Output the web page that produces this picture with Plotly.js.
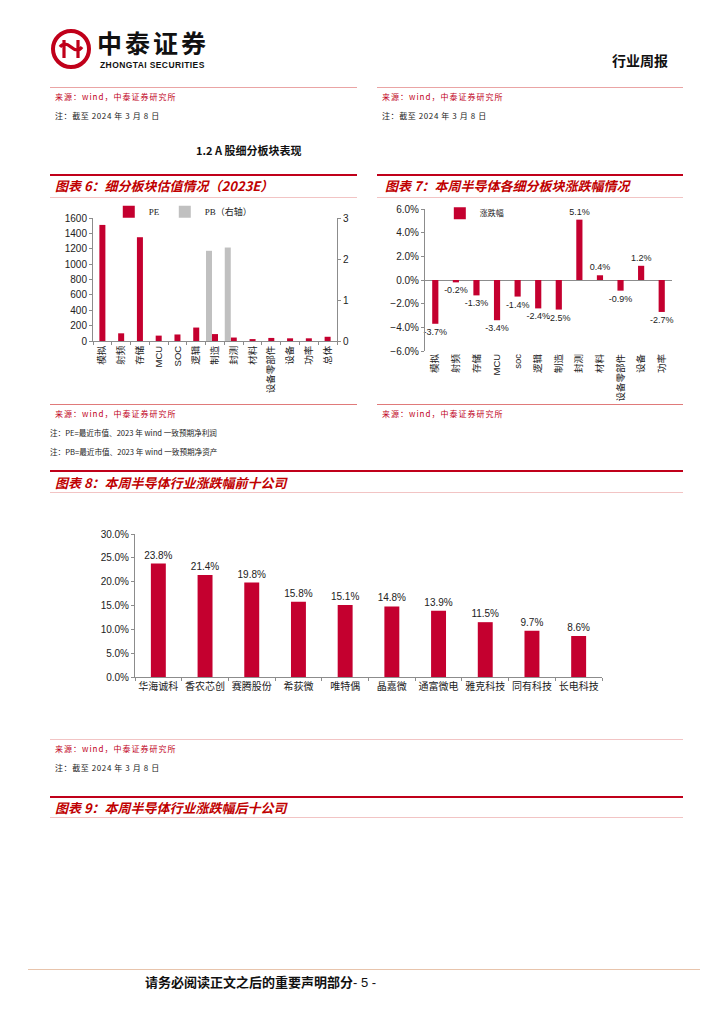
<!DOCTYPE html>
<html><head><meta charset="utf-8">
<script src="https://cdn.plot.ly/plotly-3.0.1.min.js"></script>
<style>
body{margin:0;background:#fff;}
#page{position:relative;width:724px;height:1024px;overflow:hidden;font-family:"Liberation Sans","Noto Sans CJK SC",sans-serif;}
.t{position:absolute;white-space:nowrap;line-height:1;}
.src{font-size:8px;color:#c0001a;font-family:"Noto Sans CJK SC",sans-serif;letter-spacing:1px;}
.note{font-size:8px;color:#222;font-family:"Noto Sans CJK SC",sans-serif;letter-spacing:0.6px;}
.note2{font-size:7.6px;color:#222;font-family:"Noto Sans CJK SC",sans-serif;}
.ttl{font-size:13px;color:#c00000;font-weight:bold;font-style:italic;font-family:"Noto Sans CJK SC",sans-serif;}
.ln{position:absolute;}
.chart{position:absolute;}
</style></head>
<body><div id="page">
<!-- logo -->
<svg class="ln" style="left:50px;top:28px" width="42" height="42" viewBox="0 0 42 42">
<circle cx="21" cy="21" r="18" fill="none" stroke="#c0001a" stroke-width="4"/>
<path d="M14 12 v18 M28 12 v18 M10 19 q4 -6 11 0 q7 6 11 0" fill="none" stroke="#c0001a" stroke-width="3.2"/>
</svg>
<div class="t" style="left:97px;top:30px;font-size:25px;font-weight:bold;color:#111;font-family:'Noto Sans CJK SC';letter-spacing:3px">中泰证券</div>
<div class="t" style="left:100px;top:61px;font-size:8.5px;font-weight:bold;color:#111;font-family:'Liberation Sans';letter-spacing:0.4px">ZHONGTAI SECURITIES</div>
<div class="t" style="left:612px;top:53px;font-size:14px;font-weight:bold;color:#111;font-family:'Noto Sans CJK SC'">行业周报</div>

<div class="ln" style="left:50px;top:87px;width:307px;height:1px;background:#eaa4a4"></div>
<div class="ln" style="left:377px;top:87px;width:306px;height:1px;background:#eaa4a4"></div>
<div class="t src" style="left:55px;top:93px">来源：wind，中泰证券研究所</div>
<div class="t src" style="left:382px;top:93px">来源：wind，中泰证券研究所</div>
<div class="t note" style="left:55px;top:112px">注：截至 2024 年 3 月 8 日</div>
<div class="t note" style="left:382px;top:112px">注：截至 2024 年 3 月 8 日</div>

<div class="t" style="left:196px;top:145px;font-size:11px;font-weight:bold;color:#111;font-family:'Noto Sans CJK SC'">1.2 A 股细分板块表现</div>

<!-- chart 6 header -->
<div class="ln" style="left:50px;top:174px;width:307px;height:2px;background:#c0001a"></div>
<div class="t ttl" style="left:55px;top:179px">图表 6：细分板块估值情况（2023E）</div>
<div class="ln" style="left:50px;top:197px;width:307px;height:1px;background:#f2c4c4"></div>
<!-- chart 7 header -->
<div class="ln" style="left:377px;top:174px;width:306px;height:2px;background:#c0001a"></div>
<div class="t ttl" style="left:385px;top:179px">图表 7：本周半导体各细分板块涨跌幅情况</div>
<div class="ln" style="left:377px;top:197px;width:306px;height:1px;background:#f2c4c4"></div>

<div id="c6" class="chart" style="left:40px;top:200px;width:320px;height:205px"></div>
<div id="c7" class="chart" style="left:370px;top:200px;width:320px;height:205px"></div>

<div class="ln" style="left:50px;top:404px;width:307px;height:1px;background:#e07a7a"></div>
<div class="ln" style="left:377px;top:404px;width:306px;height:1px;background:#e07a7a"></div>
<div class="t src" style="left:55px;top:410px">来源：wind，中泰证券研究所</div>
<div class="t src" style="left:382px;top:410px">来源：wind，中泰证券研究所</div>
<div class="t note2" style="left:50px;top:429px">注：PE=最近市值、2023 年 wind 一致预期净利润</div>
<div class="t note2" style="left:50px;top:448px">注：PB=最近市值、2023 年 wind 一致预期净资产</div>

<!-- chart 8 header -->
<div class="ln" style="left:50px;top:470px;width:633px;height:2px;background:#c0001a"></div>
<div class="t ttl" style="left:55px;top:476px">图表 8：本周半导体行业涨跌幅前十公司</div>
<div class="ln" style="left:50px;top:492px;width:633px;height:1px;background:#f2c4c4"></div>

<div id="c8" class="chart" style="left:40px;top:500px;width:640px;height:230px"></div>

<div class="ln" style="left:50px;top:739px;width:633px;height:1px;background:#f2c4c4"></div>
<div class="t src" style="left:55px;top:745px">来源：wind，中泰证券研究所</div>
<div class="t note" style="left:55px;top:764px">注：截至 2024 年 3 月 8 日</div>

<!-- chart 9 header -->
<div class="ln" style="left:50px;top:796px;width:633px;height:2px;background:#c0001a"></div>
<div class="t ttl" style="left:55px;top:801px">图表 9：本周半导体行业涨跌幅后十公司</div>
<div class="ln" style="left:50px;top:817px;width:633px;height:1px;background:#f2c4c4"></div>

<!-- footer -->
<div class="ln" style="left:28px;top:969px;width:672px;height:1px;background:#e8c4ac"></div>
<div class="t" style="left:145px;top:975px;font-size:13px;font-weight:bold;color:#111;font-family:'Noto Sans CJK SC'">请务必阅读正文之后的重要声明部分<span style="font-weight:normal;font-family:'Liberation Sans'">- 5 -</span></div>
</div>
<script>
// ---- data ----
var sectors6 = ['模拟','射频','存储','MCU','SOC','逻辑','制造','封测','材料','设备零部件','设备','功率','总体'];
var peValues = [1510, 100, 1350, 70, 85, 175, 90, 45, 25, 40, 35, 35, 55];
var pbValues = [null, null, null, null, null, null, 2.2, 2.28, null, null, null, null, null];

var sectors7 = ['模拟','射频','存储','MCU','soc','逻辑','制造','封测','材料','设备零部件','设备','功率'];
var chgValues = [-3.7, -0.2, -1.3, -3.4, -1.4, -2.4, -2.5, 5.1, 0.4, -0.9, 1.2, -2.7];

var top10Names = ['华海诚科','香农芯创','赛腾股份','希荻微','唯特偶','晶嘉微','通富微电','雅克科技','同有科技','长电科技'];
var top10Values = [23.8, 21.4, 19.8, 15.8, 15.1, 14.8, 13.9, 11.5, 9.7, 8.6];

var RED = '#c4002f', GRAY = '#c0c0c0', AX = '#8c8c8c';
var tf = {family:'Liberation Sans, Noto Sans CJK SC, sans-serif', size:10, color:'#222'};
var cfg = {displayModeBar:false, staticPlot:true};

// chart 6
Plotly.newPlot('c6', [
  {type:'bar', name:'PE', x:sectors6, y:peValues, marker:{color:RED}, width:0.32, offset:-0.16},
  {type:'bar', name:'PB（右轴）', x:sectors6, y:pbValues, yaxis:'y2', marker:{color:GRAY}, width:0.32, offset:-0.48}
], {
  width:320, height:205, margin:{l:53, r:23, t:18, b:64, autoexpand:false},
  paper_bgcolor:'rgba(0,0,0,0)', plot_bgcolor:'rgba(0,0,0,0)',
  font:tf, barmode:'overlay', showlegend:true,
  legend:{orientation:'h', x:0.37, xanchor:'center', y:1.05, yanchor:'middle',
          font:{family:'Liberation Serif, Noto Sans CJK SC', size:9, color:'#222'}, itemwidth:30, tracegroupgap:0, bgcolor:'rgba(0,0,0,0)'},
  xaxis:{type:'category', tickangle:-90, showline:true, linecolor:AX, ticks:'outside', tickson:'boundaries', ticklen:3, tickcolor:AX, tickfont:{size:9.5}, showgrid:false},
  yaxis:{range:[0,1600], dtick:200, showline:true, linecolor:AX, ticks:'outside', ticklen:3, tickcolor:AX, showgrid:false, zeroline:false},
  yaxis2:{range:[0,3], dtick:1, overlaying:'y', side:'right', showline:true, linecolor:AX, ticks:'outside', ticklen:3, tickcolor:AX, showgrid:false, zeroline:false}
}, cfg);

// chart 7
Plotly.newPlot('c7', [
  {type:'bar', name:'涨跌幅', x:sectors7, y:chgValues, marker:{color:RED}, width:0.3,
   texttemplate:'%{y:.1f}%', textposition:'outside', constraintext:'none', cliponaxis:false, textfont:{size:9, color:'#222'}}
], {
  width:320, height:205, margin:{l:55, r:18, t:9, b:54, autoexpand:false},
  paper_bgcolor:'rgba(0,0,0,0)', plot_bgcolor:'rgba(0,0,0,0)',
  font:tf, showlegend:true,
  legend:{x:0.06, xanchor:'left', y:0.97, yanchor:'middle', itemwidth:30,
          font:{family:'Noto Sans CJK SC', size:8, color:'#222'}, bgcolor:'rgba(0,0,0,0)'},
  xaxis:{type:'category', tickangle:-90, showline:false, ticks:'', tickfont:{size:9.5}, showgrid:false},
  yaxis:{range:[-6,6], dtick:2, tickformat:'.1f', ticksuffix:'%', showline:true, linecolor:AX, ticks:'outside', ticklen:3, tickcolor:AX, showgrid:false, zeroline:true, zerolinecolor:AX, zerolinewidth:1}
}, cfg);

// chart 8
Plotly.newPlot('c8', [
  {type:'bar', x:top10Names, y:top10Values, marker:{color:RED}, width:0.32,
   texttemplate:'%{y:.1f}%', textposition:'outside', constraintext:'none', cliponaxis:false, textfont:{size:10, color:'#222'}}
], {
  width:640, height:230, margin:{l:95, r:78, t:34, b:53, autoexpand:false},
  paper_bgcolor:'rgba(0,0,0,0)', plot_bgcolor:'rgba(0,0,0,0)',
  font:tf, showlegend:false,
  xaxis:{type:'category', tickangle:0, showline:true, linecolor:AX, ticks:'outside', tickson:'boundaries', ticklen:3, tickcolor:AX, tickfont:{size:10}, showgrid:false},
  yaxis:{range:[0,30], dtick:5, tickformat:'.1f', ticksuffix:'%', showline:true, linecolor:AX, ticks:'outside', ticklen:3, tickcolor:AX, showgrid:false, zeroline:false}
}, cfg);
</script>
</body></html>
